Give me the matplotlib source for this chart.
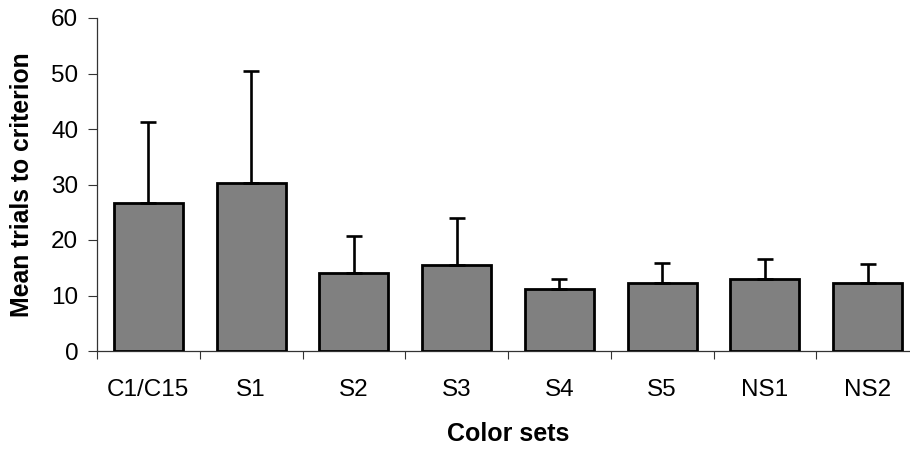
import matplotlib
matplotlib.use("Agg")
import matplotlib.pyplot as plt
import numpy as np

categories = ["C1/C15", "S1", "S2", "S3", "S4", "S5", "NS1", "NS2"]
means = [26.6, 30.3, 14.0, 15.5, 11.1, 12.2, 13.0, 12.2]
errors = [14.6, 20.2, 6.7, 8.5, 1.9, 3.7, 3.5, 3.5]
yticks = [0, 10, 20, 30, 40, 50, 60]

plt.rcParams['font.family'] = ['Liberation Sans', 'DejaVu Sans']

fig = plt.figure(figsize=(9.1, 4.5), dpi=100)
ax = fig.add_axes([97/910, 99/450, (919-97)/910, 333/450])

x = np.arange(len(categories))
ax.bar(x, means, width=0.67, color='#808080', edgecolor='black', linewidth=2.0,
       yerr=[np.zeros(len(errors)), errors], capsize=5.8,
       error_kw=dict(ecolor='black', elinewidth=1.9, capthick=1.9), zorder=3)

ax.set_xlim(-0.5, len(categories) - 0.5)
ax.set_ylim(0, 60)
ax.set_yticks(yticks)
ax.set_yticklabels([str(v) for v in yticks], fontsize=17.5)
ax.set_xticks(x)
ax.set_xticklabels(categories, fontsize=17.5)
ax.set_xticks(np.arange(-0.5, len(categories), 1.0), minor=True)
ax.tick_params(axis='x', which='major', length=0, pad=20)
ax.tick_params(axis='x', which='minor', length=5.5, width=0.8, color='#333333', direction='out')
ax.tick_params(axis='y', length=6.5, width=0.8, color='#333333', pad=7)

for s in ['top', 'right']:
    ax.spines[s].set_visible(False)
for s in ['left', 'bottom']:
    ax.spines[s].set_linewidth(0.9)
    ax.spines[s].set_color('#333333')

ax.set_ylabel("Mean trials to criterion", fontsize=17.8, fontweight='bold', labelpad=12)
ax.set_xlabel("Color sets", fontsize=18, fontweight='bold', labelpad=15)

fig.savefig("out.png", dpi=100)
